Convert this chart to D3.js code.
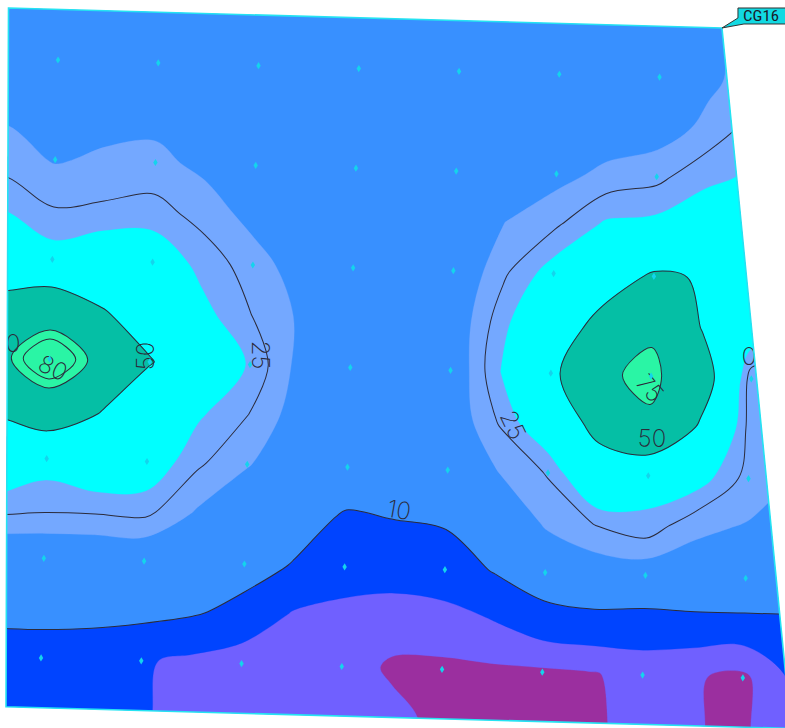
<!DOCTYPE html>
<html><head><meta charset="utf-8">
<script src="https://cdn.jsdelivr.net/npm/d3@7"></script>
<style>html,body{margin:0;padding:0;background:#fff;} svg{display:block;}</style>
</head><body>
<svg id="chart" width="785" height="728"></svg>
<script>
// ---------- data (site grid coordinates: u = column, v = row of the sampling grid) ----------
const gridU = [-1,-0.5,0,0.5,1,1.5,2,2.5,3,3.5,4,4.5,5,5.5,6,6.5,7,7.5,8];
const gridV = [-1,-0.5,0,0.5,1,1.5,2,2.5,3,3.5,4,4.5,5,5.5,6,6.5,7];
const gridValues = [
  [16,16,15,15,15,15,15,14,14,14,14,14,15,16,17,19,23,25,25],
  [16,16,15,15,15,15,15,14,14,14,14,14,15,16,17,19,23,25,25],
  [17,17,16,16,16,15,14,14,14,14,14,14,15,16,17,18.8,23,25,25],
  [18.8,18.8,17.5,17.5,18,16.5,14.5,14,14,14,14,14.5,16,16,17,21.5,28,29,29],
  [22.5,22.5,19.5,21,21.5,18.5,15,14,14,14,14,15,18,21.5,23.5,29,31,33,33],
  [29.5,29.5,25.3,26,27,23,18,14,13,13,14,20,24,31,32,34,36,38,38],
  [40,40,33,36,35,28,22.5,17,14,14,14,24,33,42,52,49,40,38,38],
  [55,55,63.5,51,42,32,25,19,14,13,15,28,40,55,72,49,35,35,35],
  [70,70,91,70,51,40,29,18,14,13,14,30,45,72,79,60,22,20,20],
  [53,53,63.5,51,38,31,25,17,14,13,15,25.5,37,56,72,48,23,20,20],
  [38,38,33,37,35,26,20.5,15,13,12,14,20,25.5,40,34,33,23,20,20],
  [27,27,26,26,26.5,19.5,14,12,9.5,10.1,10.6,13.5,21,25.3,28,21,19.5,17,17],
  [14,14,14,14,14,13,12,9.7,7.5,7,7.5,10.3,14,16,16,17,17,17,17],
  [11.5,11.5,11.5,11.5,11.5,10.5,8.5,4.5,3.5,3,3.5,5,7,7.5,7,7,7,7,7],
  [8,8,8,7.5,5.5,4,2.5,3.5,3,1.7,1.5,1.5,1.5,1.8,3,2.3,1.3,5.5,5.5],
  [6.5,6.5,6.5,6,5.5,3.5,3,3,3,2.6,1.5,1,1,1.5,3,2.3,1.2,5.5,5.5],
  [6.5,6.5,6.5,6,5.5,3.5,3,3,3,2.6,1.5,1,1,1.5,3,2.3,1.2,5.5,5.5]
];
const sampleU = [0,1,2,3,4,5,6,7];
const sampleV = [0,1,2,3,4,5,6];
const siteBoundary = [[-0.508,-0.507],[6.608,-0.51],[7.494,6.493],[-0.335,6.5]];
const bandLevels = [0, 2, 5, 10, 20, 30, 50, 75];
const lineLevels = [10, 25, 50, 75, 80];
const contourLabels = [
  {text:"80", u:0.037, v:3.09, angle:23.4},
  {text:"50", u:0.951, v:2.943, angle:-91.6},
  {text:"25", u:2.097, v:2.90, angle:88.4},
  {text:"25", u:4.638, v:3.53, angle:63.4},
  {text:"75", u:5.993, v:3.12, angle:48.4},
  {text:"50", u:6.027, v:3.621, angle:0},
  {text:"10", u:3.526, v:4.414, angle:8.4},
  {text:"0", u:-0.368, v:2.85, angle:-1.6},
  {text:"0", u:6.97, v:2.771, angle:-1.6}
];
const wellName = "CG16";

// ---------- styles ----------
const bandColors = ["#9b2f9f","#7060ff","#0044ff","#3890ff","#74a8ff","#00ffff","#05bfa5","#2af5a5"];
const lineColor = "#2b2b3b";

// ---------- drawing ----------
const svg = d3.select("#chart");
const originX = 58, originY = 60, rot = 1.627;
const xs = d3.scaleLinear().domain([0,1]).range([0,100.3]);
const ys = d3.scaleLinear().domain([0,1]).range([0,99.7]);
const nx = gridU.length, ny = gridV.length;
const uOf = d3.scaleLinear().domain([0.5, nx-0.5]).range([gridU[0], gridU[nx-1]]);
const vOf = d3.scaleLinear().domain([0.5, ny-0.5]).range([gridV[0], gridV[ny-1]]);
const flat = gridValues.flat();
const contourGen = d3.contours().size([nx, ny]);

const ringLine = d3.line()
  .x(p => xs(uOf(p[0]))).y(p => ys(vOf(p[1])))
  .curve(d3.curveCatmullRomClosed.alpha(0.5));
function geomPath(geom){
  return geom.coordinates.map(poly => poly.map(ring => ringLine(ring.slice(0,-1))).join("")).join("");
}

const outer = svg.append("g").attr("transform", `translate(${originX},${originY}) rotate(${rot})`);
const boundaryPath = d3.line().x(d => xs(d[0])).y(d => ys(d[1])).curve(d3.curveLinearClosed)(siteBoundary);
outer.append("defs").append("clipPath").attr("id","siteClip").append("path").attr("d", boundaryPath);
const inner = outer.append("g").attr("clip-path","url(#siteClip)");

bandLevels.forEach((lv, i) => {
  inner.append("path")
    .attr("d", geomPath(contourGen.contour(flat, lv)))
    .attr("fill", bandColors[i])
    .attr("fill-rule","evenodd")
    .attr("stroke", bandColors[i]).attr("stroke-width", 0.3);
});
lineLevels.forEach(lv => {
  inner.append("path")
    .attr("d", geomPath(contourGen.contour(flat, lv)))
    .attr("fill","none")
    .attr("stroke", lineColor).attr("stroke-width", 1);
});

// contour labels
contourLabels.forEach(l => {
  inner.append("text")
    .attr("transform", `translate(${xs(l.u)},${ys(l.v)}) rotate(${l.angle})`)
    .attr("text-anchor","middle").attr("dominant-baseline","central")
    .attr("font-family","Inter, Roboto, 'DejaVu Sans', sans-serif")
    .attr("font-weight", 200)
    .attr("font-size", l.text.length === 1 ? 25 : 24)
    .attr("fill", lineColor)
    .text(l.text);
});

// sample points
const samples = [];
sampleV.forEach(v => sampleU.forEach(u => { if (d3.polygonContains(siteBoundary, [u, v])) samples.push([u, v]); }));
inner.selectAll("path.pt").data(samples).join("path")
  .attr("class","pt")
  .attr("transform", d => `translate(${xs(d[0])},${ys(d[1])})`)
  .attr("d","M0,-3.6L2.2,0L0,3.6L-2.2,0Z")
  .attr("fill","#14d4ec");

// boundary
outer.append("path").attr("d", boundaryPath)
  .attr("fill","none").attr("stroke","#25e3f2").attr("stroke-width",1.6);

// well label at top-right corner
const rad = rot*Math.PI/180;
const cu = xs(siteBoundary[1][0]), cv = ys(siteBoundary[1][1]);
const cx = originX + cu*Math.cos(rad) - cv*Math.sin(rad);
const cy = originY + cu*Math.sin(rad) + cv*Math.cos(rad);
const lab = svg.append("g").attr("transform", `translate(${cx},${cy})`);
lab.append("path")
  .attr("d","M0,0 L16,-10 L16,-20 L70,-20 L70,-4 L22,-4 Z")
  .attr("fill","#12d9e2").attr("stroke","#333").attr("stroke-width",1);
lab.append("text")
  .attr("x", 39).attr("y", -12)
  .attr("text-anchor","middle").attr("dominant-baseline","central")
  .attr("font-family","'Liberation Sans Narrow', 'Roboto Condensed', 'DejaVu Sans', sans-serif")
  .attr("font-size", 15).attr("fill","#1a1a2a")
  .attr("textLength", 36).attr("lengthAdjust","spacingAndGlyphs")
  .text(wellName);
</script>
</body></html>
